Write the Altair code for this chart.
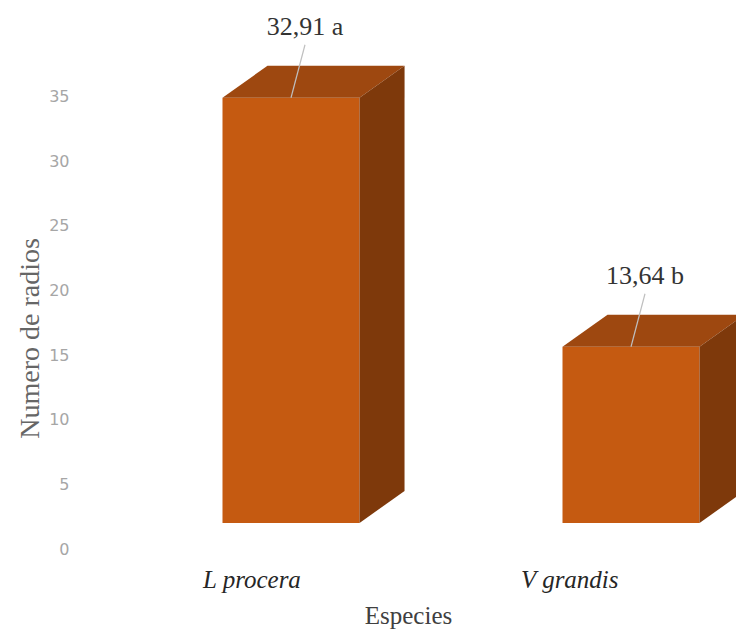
import altair as alt
import pandas as pd

# ---- data ----
species = ["L procera", "V grandis"]
means = [32.91, 13.64]
letters = ["a", "b"]
y_ticks = [0, 5, 10, 15, 20, 25, 30, 35]

# ---- style / geometry ----
FRONT = "#C55A11"
TOP = "#9E4810"
SIDE = "#7E390B"
SERIF = "Liberation Serif"
W, H = 656, 513
PAD = {"left": 80, "top": 10, "right": 0, "bottom": 114}
X_DOMAIN = [-0.6206, 1.3088]        # category units (1 unit = category spacing)
Y_DOMAIN = [0, 39.7]
HALF = 0.2015                        # half width of front face, category units
DX = 0.1324                          # 3-D depth, horizontal (category units)
DY = 2.48                            # 3-D depth, vertical (value units)
LABEL_PERSP = 0.935                  # perspective of the floor labels
LABEL_SHIFT = -0.115

xs = alt.Scale(domain=X_DOMAIN, nice=False, zero=False)
ys = alt.Scale(domain=Y_DOMAIN, nice=False, zero=False)

rows_front, rows_top, rows_side, rows_lab = [], [], [], []
for i, (s, v, l) in enumerate(zip(species, means, letters)):
    xl, xr = i - HALF, i + HALF
    rows_front.append({"cat": s, "xl": xl, "xr": xr, "xc": i, "zero": 0, "v": v,
                       "label": f"{v:.2f}".replace(".", ",") + " " + l})
    for x, y, y2 in [(xl, v, v), (xl + DX, v + DY, v), (xr, v + DY, v), (xr + DX, v + DY, v + DY)]:
        rows_top.append({"cat": s, "x": x, "y": y, "y2": y2})
    for x, y, y2 in [(xr, v, 0), (xr + DX, v + DY, DY)]:
        rows_side.append({"cat": s, "x": x, "y": y, "y2": y2})
    rows_lab.append({"cat": s, "lx": LABEL_SHIFT + LABEL_PERSP * i, "zero": 0})

front_df = pd.DataFrame(rows_front)
top_df = pd.DataFrame(rows_top)
side_df = pd.DataFrame(rows_side)
lab_df = pd.DataFrame(rows_lab)

x_axis = alt.Axis(labels=False, ticks=False, domain=False, grid=False,
                  title="Especies", titleFont=SERIF, titleFontSize=25,
                  titleFontWeight="normal", titleColor="#404040", titlePadding=80)
y_axis = alt.Axis(values=y_ticks, ticks=False, domain=False, grid=False,
                  labelFont="DejaVu Sans", labelFontSize=16, labelColor="#A6A6A6",
                  labelPadding=11, labelOffset=26,
                  title="Numero de radios", titleFont=SERIF, titleFontSize=28,
                  titleFontWeight="normal", titleColor="#666666",
                  titleAngle=-90, titleX=-50, titleY=328, titleAlign="center",
                  titleBaseline="middle")

front = alt.Chart(front_df).mark_rect(color=FRONT).encode(
    x=alt.X("xl:Q", scale=xs, axis=x_axis),
    x2="xr:Q",
    y=alt.Y("zero:Q", scale=ys, axis=y_axis),
    y2="v:Q",
)

top = alt.Chart(top_df).mark_area(color=TOP, clip=True).encode(
    x=alt.X("x:Q", scale=xs),
    y=alt.Y("y:Q", scale=ys),
    y2="y2:Q",
    detail="cat:N",
)

side = alt.Chart(side_df).mark_area(color=SIDE, clip=True).encode(
    x=alt.X("x:Q", scale=xs),
    y=alt.Y("y:Q", scale=ys),
    y2="y2:Q",
    detail="cat:N",
)

leader = alt.Chart(front_df).mark_rule(color="#BFBFBF", strokeWidth=1.2,
                                        xOffset=14, yOffset=-53).encode(
    x=alt.X("xc:Q", scale=xs),
    x2="xc:Q",
    y=alt.Y("v:Q", scale=ys),
    y2="v:Q",
)

value_text = alt.Chart(front_df).mark_text(font=SERIF, fontSize=26, color="#333333",
                                           baseline="middle", align="center",
                                           dx=14, dy=-71).encode(
    x=alt.X("xc:Q", scale=xs),
    y=alt.Y("v:Q", scale=ys),
    text="label:N",
)

cat_text = alt.Chart(lab_df).mark_text(font=SERIF, fontSize=25, fontStyle="italic",
                                       color="#262626", baseline="middle",
                                       align="center", dy=57).encode(
    x=alt.X("lx:Q", scale=xs),
    y=alt.Y("zero:Q", scale=ys),
    text="cat:N",
)

chart = alt.layer(front, top, side, leader, value_text, cat_text).properties(
    width=W, height=H, padding=PAD,
    autosize=alt.AutoSizeParams(type="none"),
    background="white",
).configure_view(stroke=None)

chart.save("out.html", embed_options={"renderer": "svg", "actions": False})
